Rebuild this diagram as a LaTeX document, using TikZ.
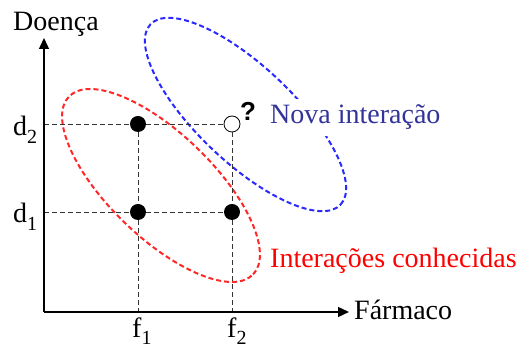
\documentclass[tikz,border=0pt]{standalone}
\usepackage{fontspec}
\setmainfont{Liberation Serif}
\newfontfamily\qfont{Liberation Sans}
\usetikzlibrary{arrows.meta}
\definecolor{novablue}{RGB}{51,51,153}
\definecolor{ellblue}{RGB}{40,40,255}
\definecolor{ellred}{RGB}{255,40,40}
\begin{document}
\begin{tikzpicture}[x=1pt,y=1pt,
  lbl/.style={font=\fontsize{28}{32}\selectfont, inner sep=0pt, anchor=base west},
  dot/.style={circle, fill=black, minimum size=16pt, inner sep=0pt},
  opendot/.style={circle, draw=black, line width=0.8pt, fill=white, minimum size=16pt, inner sep=0pt},
  guide/.style={draw=black!80, line width=0.9pt, dash pattern=on 5pt off 3pt},
  ell/.style={line width=2pt, dash pattern=on 5pt off 3pt},
  axis/.style={draw=black, line width=1.4pt, -{Triangle[length=11pt,width=10pt]}}
]
\useasboundingbox (0,0) rectangle (523,350);

% ellipses
\draw[ell, ellred, rotate around={-44:(161,164.5)}] (161,164.5) ellipse [x radius=128, y radius=52];
\draw[ell, ellblue, rotate around={-43.5:(245.5,235.5)}] (245.5,235.5) ellipse [x radius=131, y radius=48];

% points
\node[dot] (p11) at (138,138) {};
\node[dot] (p12) at (138,226) {};
\node[dot] (p21) at (232,138) {};
\node[opendot] (p22) at (232,226) {};

\coordinate (o) at (44,38);
\coordinate (ytip) at (44,312);
\coordinate (xtip) at (349,38);
\coordinate (a1) at (44,138);
\coordinate (a2) at (44,226);
\coordinate (b1) at (138,38);
\coordinate (b2) at (232,38);

% guides
\draw[guide] (a2) -- (p12);
\draw[guide] (p12) -- (p22);
\draw[guide] (a1) -- (p11);
\draw[guide] (p11) -- (p21);
\draw[guide] (p12) -- (p11);
\draw[guide] (p11) -- (b1);
\draw[guide] (p22) -- (p21);
\draw[guide] (p21) -- (b2);

% axes
\draw[axis] (o) -- (ytip);
\draw[axis] (o) -- (xtip);

% labels
\node[lbl] (yl) at (13,319) {Doença};
\node[lbl] (xl) at (354,30) {Fármaco};
\node[lbl] (d2) at (13,214) {d\raisebox{-8pt}{\fontsize{20}{22}\selectfont 2}};
\node[lbl] (d1) at (13,127) {d\raisebox{-8pt}{\fontsize{20}{22}\selectfont 1}};
\node[lbl] (f1) at (132,12) {f\raisebox{-7pt}{\fontsize{20}{22}\selectfont 1}};
\node[lbl] (f2) at (227,12) {f\raisebox{-7pt}{\fontsize{20}{22}\selectfont 2}};
\node[lbl, font=\qfont\bfseries\fontsize{26}{30}\selectfont] (q) at (240,229) {?};
\node[lbl, text=novablue, fill=white, inner xsep=12pt, inner ysep=6pt] (nova) at (258,226) {Nova interação};
\node[lbl, text=red] (conh) at (270,82) {Interações conhecidas};
\end{tikzpicture}
\end{document}
